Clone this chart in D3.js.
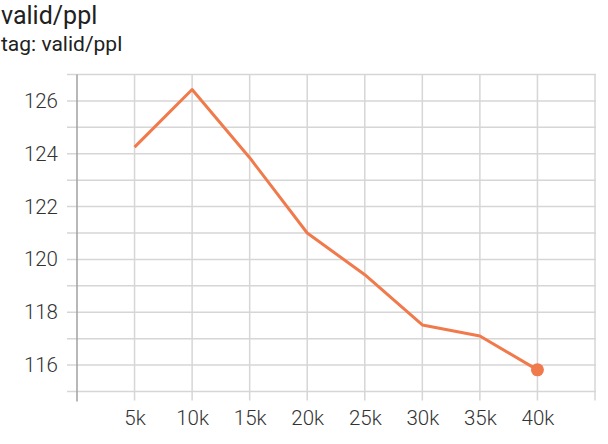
<!DOCTYPE html>
<html>
<head>
<meta charset="utf-8">
<script src="https://cdn.jsdelivr.net/npm/d3@7"></script>
<style>
  body { margin: 0; background: #fff; font-family: Roboto, sans-serif; }
  .grid line { stroke: #d6d6d6; stroke-width: 1.5; }
  .tick text { fill: #333; font-size: 20.5px; font-weight: 300; font-family: Roboto, sans-serif; }
</style>
</head>
<body>
<script>
const steps = [5000, 10000, 15000, 20000, 25000, 30000, 35000, 40000];
const ppl = [124.25, 126.43, 123.85, 121.0, 119.42, 117.52, 117.1, 115.82];
const xTicks = [5000, 10000, 15000, 20000, 25000, 30000, 35000, 40000];
const yTicks = [116, 118, 120, 122, 124, 126];

function init() {
    var w = 608, h = 444;
    var left = 77, right = 595, top = 74.5, bottom = 391.5;

    var svg = d3.select("body").append("svg")
        .attr("width", w)
        .attr("height", h);

    svg.append("text").attr("x", 1).attr("y", 24)
        .style("font-size", "25px").style("fill", "#212121")
        .text("valid/ppl");
    svg.append("text").attr("x", 1).attr("y", 51)
        .style("font-size", "21px").style("fill", "#212121")
        .text("tag: valid/ppl");

    var x = d3.scaleLinear().domain([0, 45000]).range([left, right]);
    var y = d3.scaleLinear().domain([115, 127]).range([bottom, top]);

    // horizontal grid every 1 unit
    svg.append("g").attr("class", "grid")
        .selectAll("line")
        .data(d3.range(115, 128))
        .enter().append("line")
        .attr("x1", left - 10).attr("x2", right + 1)
        .attr("y1", d => y(d)).attr("y2", d => y(d));

    // vertical grid every 5k
    svg.append("g").attr("class", "grid")
        .selectAll("line")
        .data(d3.range(5000, 45001, 5000))
        .enter().append("line")
        .attr("x1", d => x(d)).attr("x2", d => x(d))
        .attr("y1", top).attr("y2", bottom + 9);

    // left axis line
    svg.append("line")
        .attr("x1", left).attr("x2", left)
        .attr("y1", top).attr("y2", bottom + 10)
        .attr("stroke", "#a0a0a0").attr("stroke-width", 1.5);

    svg.append("g")
        .attr("transform", "translate(" + (left - 19) + ",0)")
        .call(d3.axisLeft(y).tickValues(yTicks).tickSize(0).tickPadding(0))
        .call(g => g.select(".domain").remove());

    svg.append("g")
        .attr("transform", "translate(0," + (bottom + 17) + ")")
        .call(d3.axisBottom(x).tickValues(xTicks).tickSize(0).tickPadding(2)
            .tickFormat(d => (d / 1000) + "k"))
        .call(g => g.select(".domain").remove());

    var line = d3.line()
        .x((d, i) => x(steps[i]))
        .y(d => y(d));

    svg.append("path")
        .datum(ppl)
        .attr("fill", "none")
        .attr("stroke", "#f07a4b")
        .attr("stroke-width", 3)
        .attr("stroke-linejoin", "round")
        .attr("d", line);

    var n = steps.length - 1;
    svg.append("circle")
        .attr("cx", x(steps[n])).attr("cy", y(ppl[n]))
        .attr("r", 6.5)
        .attr("fill", "#f07a4b");
}
window.onload = init;
</script>
</body>
</html>
